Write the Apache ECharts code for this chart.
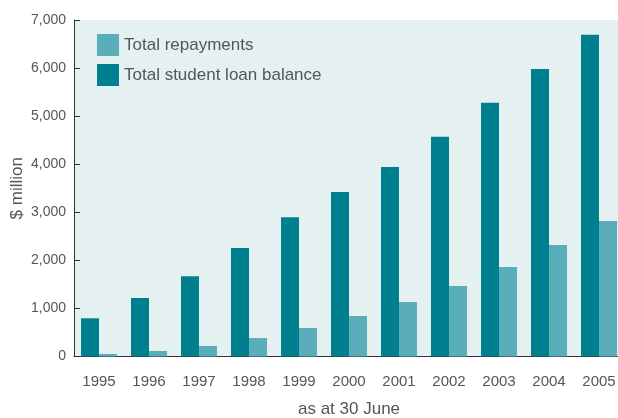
<!DOCTYPE html>
<html>
<head>
<meta charset="utf-8">
<script src="https://cdn.jsdelivr.net/npm/echarts@6/dist/echarts.min.js"></script>
<style>html,body{margin:0;padding:0;background:#fff}#c{width:618px;height:418px}</style>
</head>
<body>
<div id="c"></div>
<script>
const years = ['1995','1996','1997','1998','1999','2000','2001','2002','2003','2004','2005'];
const loanBalance = [795, 1217, 1670, 2257, 2896, 3422, 3942, 4573, 5280, 5981, 6694];
const repayments = [52, 114, 218, 384, 593, 842, 1134, 1467, 1862, 2320, 2819];
const yTicks = [0, 1000, 2000, 3000, 4000, 5000, 6000, 7000];

const FONT = 'Liberation Sans';
const TXT = '#555';
const chart = echarts.init(document.getElementById('c'), null, {renderer: 'canvas'});
chart.setOption({
  animation: false,
  textStyle: {fontFamily: FONT},
  grid: {left: 74, top: 20, bottom: 61.5, right: -6, backgroundColor: '#e5f1f1', show: true, borderWidth: 0,
    containLabel: false, outerBoundsMode: 'none'},
  legend: {
    orient: 'vertical', left: 97, top: 34, itemWidth: 22, itemHeight: 22, itemGap: 8,
    icon: 'rect', padding: 0,
    data: ['Total repayments', 'Total student loan balance'],
    textStyle: {fontSize: 17, color: TXT, fontFamily: FONT}
  },
  xAxis: {
    type: 'category', data: years,
    axisLine: {lineStyle: {color: '#333', width: 1}},
    axisTick: {show: false},
    axisLabel: {fontSize: 15, color: TXT, margin: 18},
    name: 'as at 30 June', nameLocation: 'middle', nameGap: 44, nameMoveOverlap: false,
    nameTextStyle: {fontSize: 17, color: TXT}
  },
  yAxis: {
    type: 'value', min: yTicks[0], max: yTicks[yTicks.length - 1], interval: 1000,
    axisLine: {show: true, lineStyle: {color: '#333', width: 1}},
    axisTick: {show: true, inside: true, length: 6, lineStyle: {color: '#333'}},
    splitLine: {show: false},
    axisLabel: {fontSize: 14, color: TXT, margin: 8,
      formatter: v => v.toLocaleString('en-US')},
    name: '$ million', nameLocation: 'middle', nameGap: 48, nameMoveOverlap: false,
    nameTextStyle: {fontSize: 17, color: TXT}
  },
  series: [
    {name: 'Total student loan balance', type: 'bar', data: loanBalance, barWidth: 18, barGap: '0%',
      itemStyle: {color: '#007f8f'}},
    {name: 'Total repayments', type: 'bar', data: repayments, barWidth: 18, barGap: '0%',
      itemStyle: {color: '#5aaeb9'}}
  ]
});
</script>
</body>
</html>
